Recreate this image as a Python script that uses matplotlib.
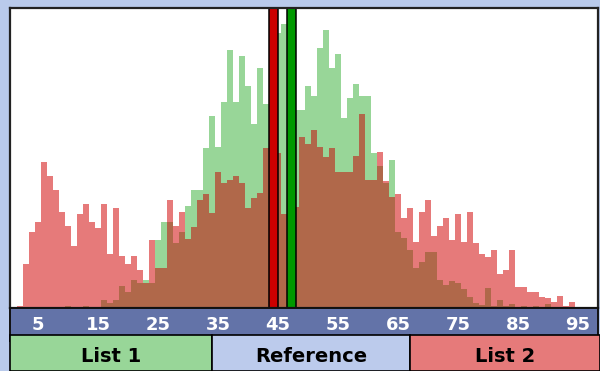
import numpy as np
import matplotlib
matplotlib.use("Agg")
import matplotlib.pyplot as plt
from matplotlib.patches import Rectangle

# histogram bins (one unit wide, centred on the integers)
bins = np.arange(1, 96)

list1_counts = [
    0, 0, 0, 0, 0, 0, 0, 0, 0, 2,
    0, 0, 2, 0, 0, 8, 5, 8, 22, 16,
    28, 25, 28, 25, 68, 86, 86, 65, 76, 102,
    118, 118, 160, 192, 161, 206, 258, 206, 252, 222,
    184, 240, 204, 240, 275, 284, 250, 198, 198, 222,
    212, 260, 278, 240, 254, 190, 210, 224, 212, 212,
    155, 142, 125, 148, 76, 70, 58, 40, 46, 56,
    56, 28, 23, 27, 25, 19, 11, 5, 3, 20,
    2, 8, 2, 4, 0, 2, 0, 2, 0, 4,
    0, 0, 0, 0, 0,
]
list2_counts = [
    0, 2, 44, 76, 86, 146, 132, 118, 96, 82,
    62, 94, 104, 86, 80, 104, 54, 100, 52, 44,
    52, 38, 25, 68, 40, 40, 108, 82, 96, 69,
    81, 108, 114, 95, 136, 125, 128, 132, 125, 100,
    110, 115, 160, 150, 155, 94, 120, 101, 171, 164,
    178, 161, 151, 160, 136, 136, 136, 152, 194, 128,
    128, 156, 127, 111, 114, 90, 100, 66, 96, 108,
    72, 82, 90, 68, 94, 66, 96, 65, 54, 51,
    58, 34, 38, 58, 21, 21, 16, 16, 11, 10,
    6, 12, 2, 6, 0,
]

# reference markers (list 2 mean, list 1 mean)
marker_pos = [44.3, 47.3]
marker_colors = ["#cc0000", "#009900"]

tick_values = [5, 15, 25, 35, 45, 55, 65, 75, 85, 95]
legend_labels = ["List 1", "Reference", "List 2"]
legend_colors = ["#98d698", "#bccbec", "#e67a7a"]

GREEN = "#98d698"
RED = "#e67a7a"
BROWN = "#b0684a"
BG = "#b9caeb"
BAND = "#6373a8"

W, H = 600, 371
fig = plt.figure(figsize=(W / 100, H / 100), dpi=100, facecolor=BG)


def px_axes(x0, y0, x1, y1):
    # axes from pixel box (top-left origin)
    return fig.add_axes([x0 / W, 1 - y1 / H, (x1 - x0) / W, (y1 - y0) / H])


xlim = (0.33, 98.33)

# main histogram
ax = px_axes(10, 8, 598, 308)
ax.set_facecolor("white")
g = np.array(list1_counts)
r = np.array(list2_counts)
ax.bar(bins, g, width=1.0, color=GREEN, linewidth=0)
ax.bar(bins, r, width=1.0, color=RED, linewidth=0)
ax.bar(bins, np.minimum(g, r), width=1.0, color=BROWN, linewidth=0)
ax.bar(marker_pos, [300, 300], width=1.5, color=marker_colors,
       edgecolor="black", linewidth=1.1)
ax.set_xlim(*xlim)
ax.set_ylim(0, 300)
ax.set_xticks([])
ax.set_yticks([])
for s in ax.spines.values():
    s.set_color("#222222")
    s.set_linewidth(1.6)

# axis band with tick labels
band = px_axes(10, 308, 598, 341)
band.set_facecolor(BAND)
band.set_xlim(*xlim)
band.set_ylim(0, 1)
band.set_xticks([])
band.set_yticks([])
for s in band.spines.values():
    s.set_color("#111111")
    s.set_linewidth(1.4)
for t in tick_values:
    band.text(t, 0.48, str(t), color="white", fontsize=13, fontweight="bold",
              ha="center", va="center")

# legend strip
leg = px_axes(10, 341, 600, 371)
leg.set_xlim(0, 590)
leg.set_ylim(0, 1)
leg.axis("off")
edges = [0, 202, 400, 590]
for i, lab in enumerate(legend_labels):
    leg.add_patch(Rectangle((edges[i], 0), edges[i + 1] - edges[i], 1.2,
                            facecolor=legend_colors[i], edgecolor="black",
                            linewidth=1.2, clip_on=False))
    leg.text((edges[i] + edges[i + 1]) / 2, 0.5, lab, fontsize=14,
             fontweight="bold", ha="center", va="center", color="black")

fig.savefig("out.png", dpi=100, facecolor=BG)
